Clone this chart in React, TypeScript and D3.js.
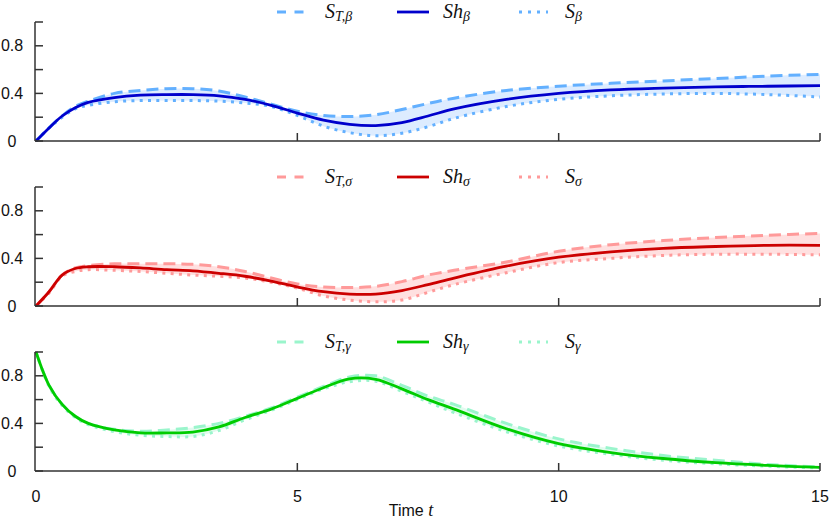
import React from "react";
import * as d3 from "d3";

const times = [0, 0.25, 0.5, 0.75, 1, 1.5, 2, 2.5, 3, 3.5, 4, 4.5, 5, 5.5, 6, 6.5, 7, 7.5, 8, 9, 10, 11, 12, 13, 14, 15];

// beta
const shBeta = [0, 0.11, 0.21, 0.28, 0.325, 0.365, 0.385, 0.39, 0.39, 0.38, 0.35, 0.3, 0.235, 0.175, 0.14, 0.13, 0.155, 0.21, 0.27, 0.35, 0.4, 0.43, 0.445, 0.455, 0.46, 0.465];
const stBeta = [0, 0.11, 0.21, 0.29, 0.335, 0.4, 0.425, 0.44, 0.44, 0.42, 0.37, 0.31, 0.25, 0.215, 0.205, 0.22, 0.265, 0.315, 0.36, 0.425, 0.46, 0.485, 0.505, 0.525, 0.545, 0.56];
const sBeta = [0, 0.11, 0.2, 0.27, 0.3, 0.33, 0.34, 0.34, 0.34, 0.335, 0.32, 0.29, 0.215, 0.125, 0.07, 0.045, 0.065, 0.12, 0.19, 0.29, 0.35, 0.38, 0.395, 0.4, 0.39, 0.37];

// sigma
const shSigma = [0, 0.12, 0.26, 0.315, 0.33, 0.33, 0.32, 0.305, 0.295, 0.275, 0.25, 0.21, 0.16, 0.12, 0.1, 0.1, 0.13, 0.18, 0.235, 0.335, 0.41, 0.455, 0.485, 0.5, 0.51, 0.51];
const stSigma = [0, 0.12, 0.26, 0.32, 0.34, 0.355, 0.355, 0.355, 0.35, 0.33, 0.29, 0.235, 0.185, 0.16, 0.155, 0.165, 0.205, 0.26, 0.3, 0.37, 0.46, 0.515, 0.55, 0.575, 0.595, 0.61];
const sSigma = [0, 0.11, 0.25, 0.29, 0.305, 0.3, 0.29, 0.275, 0.26, 0.25, 0.235, 0.2, 0.15, 0.085, 0.05, 0.035, 0.05, 0.115, 0.18, 0.28, 0.365, 0.4, 0.425, 0.435, 0.435, 0.43];

// gamma
const shGamma = [1, 0.72, 0.56, 0.46, 0.4, 0.345, 0.32, 0.32, 0.327, 0.37, 0.45, 0.52, 0.61, 0.7, 0.775, 0.77, 0.69, 0.6, 0.52, 0.355, 0.23, 0.155, 0.105, 0.07, 0.047, 0.03];
const stGamma = [1, 0.72, 0.56, 0.46, 0.4, 0.35, 0.335, 0.345, 0.365, 0.4, 0.46, 0.53, 0.62, 0.71, 0.79, 0.8, 0.72, 0.63, 0.56, 0.4, 0.27, 0.19, 0.13, 0.09, 0.055, 0.035];
const sGamma = [1, 0.71, 0.55, 0.45, 0.39, 0.33, 0.3, 0.29, 0.29, 0.34, 0.43, 0.51, 0.6, 0.69, 0.75, 0.755, 0.67, 0.58, 0.49, 0.33, 0.21, 0.14, 0.09, 0.06, 0.04, 0.025];

const yTicks = [0, 0.2, 0.4, 0.6, 0.8, 1];
const yLabels = [0, 0.4, 0.8];
const xTicks = [5, 10, 15];
const xLabels = [0, 5, 10, 15];

const panels = [
  { sym: "β", sh: shBeta, st: stBeta, s: sBeta, light: "#63b0ff", dark: "#0000cc", fill: "#ddecff" },
  { sym: "σ", sh: shSigma, st: stSigma, s: sSigma, light: "#ff9a9a", dark: "#cc0000", fill: "#ffe0e0" },
  { sym: "γ", sh: shGamma, st: stGamma, s: sGamma, light: "#9af5cc", dark: "#00cc00", fill: "#e2fbef" },
];

const width = 830;
const height = 521;
const left = 36;
const right = 820;
const firstTop = 22;
const panelH = 119;
const gap = 165;
const axisColor = "#333";
const sans = "'Liberation Sans', Arial, sans-serif";
const serif = "'Liberation Serif', 'Times New Roman', serif";

export default function App() {
  const x = d3.scaleLinear().domain([0, 15]).range([left, right]);

  return (
    <svg width={width} height={height} style={{ position: "absolute", left: 0, top: 0 }}>
      <rect width={width} height={height} fill="white" />
      {panels.map((p, pi) => {
        const top = firstTop + pi * gap;
        const y = d3.scaleLinear().domain([0, 1]).range([top + panelH, top]);
        const line = (vals: number[]) =>
          d3
            .line<number>()
            .x((_, i) => x(times[i]))
            .y((d) => y(d))
            .curve(d3.curveCatmullRom.alpha(0.5))(vals) || "";
        const band =
          d3
            .area<number>()
            .x((_, i) => x(times[i]))
            .y0((_, i) => y(p.s[i]))
            .y1((d) => y(d))
            .curve(d3.curveCatmullRom.alpha(0.5))(p.st) || "";
        const ly = top - 10;
        return (
          <g key={p.sym}>
            <path d={band} fill={p.fill} />
            <path d={line(p.s)} fill="none" stroke={p.light} strokeWidth={3} strokeDasharray="3 5.3" />
            <path d={line(p.st)} fill="none" stroke={p.light} strokeWidth={3} strokeDasharray="12 6" />
            <path d={line(p.sh)} fill="none" stroke={p.dark} strokeWidth={2.8} />

            {/* axes */}
            <line x1={left - 1} x2={left - 1} y1={y(1)} y2={y(0)} stroke={axisColor} strokeWidth={1.5} />
            <line x1={left - 1} x2={right} y1={y(0)} y2={y(0)} stroke={axisColor} strokeWidth={1.5} />
            {yTicks.map((t) => (
              <line key={t} x1={left - 1} x2={left + 7} y1={y(t)} y2={y(t)} stroke={axisColor} strokeWidth={1.5} />
            ))}
            {yLabels.map((t) => (
              <text key={t} x={12} y={y(t)} textAnchor="middle" dominantBaseline="central" fontFamily={sans} fontSize={16} fill="#111">
                {t === 0 ? "0" : t.toString()}
              </text>
            ))}
            {xTicks.map((t) => (
              <line key={t} x1={x(t)} x2={x(t)} y1={y(0)} y2={y(0) - 8} stroke={axisColor} strokeWidth={1.5} />
            ))}
            {pi === panels.length - 1 &&
              xLabels.map((t) => (
                <text key={t} x={x(t)} y={y(0) + 25} textAnchor="middle" dominantBaseline="central" fontFamily={sans} fontSize={16} fill="#111">
                  {t}
                </text>
              ))}

            {/* legend */}
            <line x1={277} x2={305} y1={ly} y2={ly} stroke={p.light} strokeWidth={3} strokeDasharray="9 8.5" />
            <text x={325} y={ly + 6} fontFamily={serif} fontStyle="italic" fontSize={20} fill="#111">
              S
              <tspan fontSize={14} dy={3}>T,{p.sym}</tspan>
            </text>
            <line x1={397} x2={429} y1={ly} y2={ly} stroke={p.dark} strokeWidth={2.8} />
            <text x={443} y={ly + 6} fontFamily={serif} fontStyle="italic" fontSize={20} fill="#111">
              Sh
              <tspan fontSize={14} dy={3}>{p.sym}</tspan>
            </text>
            <line x1={519} x2={548} y1={ly} y2={ly} stroke={p.light} strokeWidth={3} strokeDasharray="3 6" />
            <text x={565} y={ly + 6} fontFamily={serif} fontStyle="italic" fontSize={20} fill="#111">
              S
              <tspan fontSize={14} dy={3}>{p.sym}</tspan>
            </text>
          </g>
        );
      })}
      <text x={411} y={516} textAnchor="middle" fontFamily={sans} fontSize={16} fill="#111">
        Time <tspan fontFamily={serif} fontStyle="italic" fontSize={18}>t</tspan>
      </text>
    </svg>
  );
}
